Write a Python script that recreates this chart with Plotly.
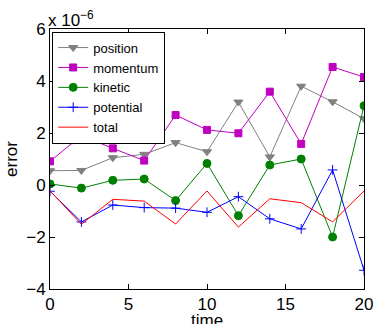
import plotly.graph_objects as go

time = [0, 2, 4, 6, 8, 10, 12, 14, 16, 18, 20]
# errors in units of 1e-6
position = [0.55, 0.56, 1.05, 1.18, 1.63, 1.28, 3.19, 1.08, 3.80, 3.20, 2.55]
momentum = [0.91, 1.90, 1.41, 0.94, 2.69, 2.12, 1.99, 3.59, 1.58, 4.54, 4.15]
kinetic = [0.04, -0.12, 0.18, 0.23, -0.60, 0.83, -1.18, 0.77, 1.00, -2.00, 3.05]
potential = [-0.24, -1.42, -0.77, -0.87, -0.89, -1.05, -0.45, -1.30, -1.69, 0.58, -3.28]
total = [-0.22, -1.51, -0.55, -0.62, -1.50, -0.23, -1.62, -0.53, -0.68, -1.42, -0.23]

xticks = [0, 5, 10, 15, 20]
yticks = [-4, -2, 0, 2, 4, 6]
yticktext = ["\u22124", "\u22122", "0", "2", "4", "6"]

series = [
    ("position", position, "#808080", "triangle-down", 8),
    ("momentum", momentum, "#BF00BF", "square", 7),
    ("kinetic", kinetic, "#008000", "circle", 8),
    ("potential", potential, "#0000FF", "cross-thin", 7),
    ("total", total, "#FF0000", None, 0),
]

fig = go.Figure()
for name, vals, col, sym, sz in series:
    if sym:
        fig.add_trace(go.Scatter(
            x=time, y=vals, name=name, mode="lines+markers",
            line=dict(color=col, width=1),
            marker=dict(symbol=sym, size=sz, color=col, line=dict(color=col, width=1)),
        ))
    else:
        fig.add_trace(go.Scatter(
            x=time, y=vals, name=name, mode="lines",
            line=dict(color=col, width=1),
        ))

axis_common = dict(
    showline=True, linecolor="black", linewidth=1, mirror="allticks",
    ticks="inside", ticklen=5, tickcolor="black", showgrid=False, zeroline=False,
    tickfont=dict(family="Liberation Sans, Arial", size=17, color="black"),
)

fig.update_layout(
    width=374, height=324,
    margin=dict(l=50, r=10, t=29, b=35),
    paper_bgcolor="white", plot_bgcolor="white",
    font=dict(family="Liberation Sans, Arial", color="black"),
    xaxis=dict(range=[0, 20], tickvals=xticks, automargin=False, **axis_common),
    yaxis=dict(range=[-4, 6], tickvals=yticks, ticktext=yticktext,
               title=dict(text="error", font=dict(size=17), standoff=4), **axis_common),
    legend=dict(x=0.007, y=0.99, xanchor="left", yanchor="top",
                bgcolor="white", bordercolor="black", borderwidth=1,
                font=dict(size=13), itemwidth=30, tracegroupgap=0),
    showlegend=True,
    annotations=[
        dict(text="x 10<sup>\u22126</sup>", xref="paper", yref="paper",
             x=0, y=1, xanchor="left", yanchor="bottom", showarrow=False,
             font=dict(size=17), xshift=-4, yshift=-3),
        dict(text="time", xref="paper", yref="paper",
             x=0.5, y=0, xanchor="center", yanchor="top", showarrow=False,
             font=dict(size=17), yshift=-20),
    ],
)

fig.write_html("out.html")
